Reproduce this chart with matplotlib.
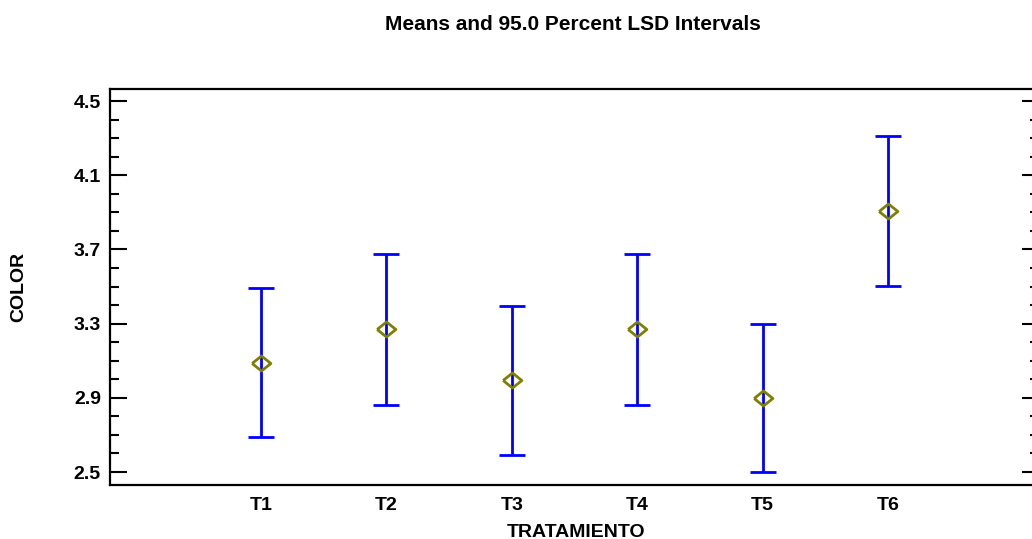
import matplotlib
matplotlib.use('Agg')
import matplotlib.pyplot as plt
from matplotlib.ticker import MultipleLocator

# data
groups = ['T1', 'T2', 'T3', 'T4', 'T5', 'T6']
means = [3.09, 3.27, 2.995, 3.27, 2.90, 3.905]
lower = [2.69, 2.86, 2.59, 2.86, 2.50, 3.505]
upper = [3.49, 3.675, 3.395, 3.675, 3.30, 4.31]
yticks = [2.5, 2.9, 3.3, 3.7, 4.1, 4.5]

plt.rcParams['font.family'] = ['Liberation Sans', 'DejaVu Sans']
plt.rcParams['font.weight'] = 'bold'

fig = plt.figure(figsize=(10.32, 5.39), dpi=100)
# right spine sits just past the picture edge, as in the reference
ax = fig.add_axes([110 / 1032, 1 - 485 / 539, 929 / 1032, 396 / 539])

x = list(range(1, len(groups) + 1))
err_lo = [m - l for m, l in zip(means, lower)]
err_hi = [u - m for m, u in zip(means, upper)]
ax.errorbar(x, means, yerr=[err_lo, err_hi], fmt='none', ecolor='#0000ff',
            elinewidth=2.0, capsize=9.5, capthick=2.0, zorder=2)
diamond = [(-1, 0), (0, 0.8), (1, 0), (0, -0.8), (-1, 0)]
ax.plot(x, means, linestyle='none', marker=diamond, markersize=13.5,
        markerfacecolor='none', markeredgecolor='#808000', markeredgewidth=2.0, zorder=3)

ax.set_xlim(-0.204, 7.205)
ax.set_ylim(2.43, 4.565)
ax.set_xticks(x)
ax.set_xticklabels(groups, fontsize=14, fontweight='bold')
ax.set_yticks(yticks)
ax.set_yticklabels([f'{v:.1f}' for v in yticks], fontsize=14, fontweight='bold')
ax.yaxis.set_minor_locator(MultipleLocator(0.1))
ax.tick_params(axis='x', length=0, pad=8.5)
ax.tick_params(axis='y', which='major', direction='in', length=12, width=1.5,
               left=True, right=True, pad=6.5)
ax.tick_params(axis='y', which='minor', direction='in', length=6.5, width=1.5,
               left=True, right=True)
for s in ax.spines.values():
    s.set_linewidth(1.6)

ax.set_xlabel('TRATAMIENTO', fontsize=14, fontweight='bold', va='center')
ax.xaxis.set_label_coords(0.502, -0.119)
ax.set_ylabel('COLOR', fontsize=14, fontweight='bold', va='center')
ax.yaxis.set_label_coords(-0.098, 0.5)
fig.text(573 / 1032, 1 - 25 / 539, 'Means and 95.0 Percent LSD Intervals',
         ha='center', va='center', fontsize=15, fontweight='bold')

plt.savefig('out.png', dpi=100)
